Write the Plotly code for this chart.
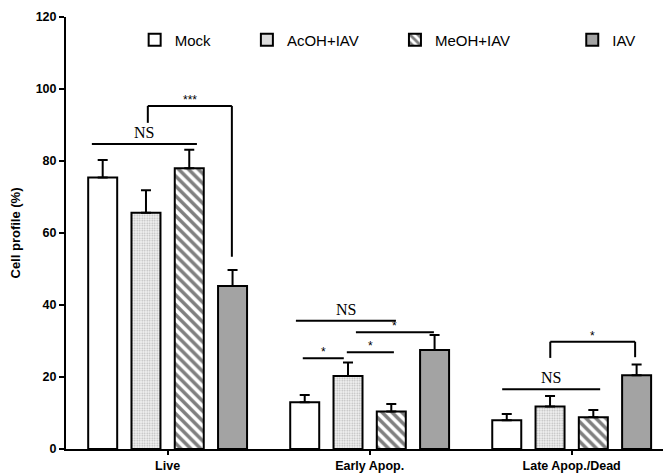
import plotly.graph_objects as go

categories = ["Live", "Early Apop.", "Late Apop./Dead"]
series_names = ["Mock", "AcOH+IAV", "MeOH+IAV", "IAV"]
mock = [75.4, 13.0, 8.0]
mock_err = [4.9, 2.0, 1.7]
acoh = [65.6, 20.3, 11.8]
acoh_err = [6.3, 3.7, 2.9]
meoh = [78.0, 10.4, 8.8]
meoh_err = [5.1, 2.1, 2.0]
iav = [45.3, 27.5, 20.5]
iav_err = [4.4, 4.2, 3.0]
y_ticks = [0, 20, 40, 60, 80, 100, 120]

# significance marks: (group, x_start offset, x_end offset, y, label, kind, left drop, right drop)
brackets = [
    (0, -0.375, 0.145, 84.7, "NS", "line", None, None),
    (0, -0.098, 0.318, 95.3, "***", "bracket", 90.6, 53.4),
    (1, -0.365, 0.130, 35.6, "NS", "line", None, None),
    (1, -0.068, 0.318, 32.4, "*", "line", None, None),
    (1, -0.331, -0.128, 25.2, "*", "line", None, None),
    (1, -0.113, 0.120, 26.9, "*", "line", None, None),
    (2, -0.344, 0.141, 16.6, "NS", "line", None, None),
    (2, -0.106, 0.314, 29.8, "*", "bracket", 25.3, 25.5),
]

FONT = "Liberation Sans, Arial, sans-serif"
SERIF = "Liberation Serif, Times New Roman, serif"

values = [mock, acoh, meoh, iav]
errors = [mock_err, acoh_err, meoh_err, iav_err]
fills = ["white", "white", "white", "#a3a3a3"]
patterns = [
    dict(shape=""),
    dict(shape=".", size=2.5, solidity=0.35, fgcolor="#7a7a7a", bgcolor="#f2f2f2", fillmode="overlay"),
    dict(shape="\\", size=7, solidity=0.5, fgcolor="black", bgcolor="white", fillmode="overlay"),
    dict(shape=""),
]
legend_ids = ["legend", "legend2", "legend3", "legend4"]
legend_x = [0.115, 0.303, 0.551, 0.848]

fig = go.Figure()
for i, name in enumerate(series_names):
    fig.add_trace(go.Bar(
        x=list(range(len(categories))), y=values[i], name=name,
        marker=dict(color=fills[i], line=dict(color="black", width=2), pattern=patterns[i]),
        error_y=dict(type="data", symmetric=False, array=errors[i],
                     arrayminus=[0] * len(categories), color="black", thickness=2, width=5),
        legend=legend_ids[i], offsetgroup=str(i), showlegend=True,
    ))

shapes = []
annotations = []
for g, xs, xe, y, label, kind, yl, yr in brackets:
    x0, x1 = g + xs, g + xe
    line = dict(color="black", width=2)
    shapes.append(dict(type="line", xref="x", yref="y", x0=x0, x1=x1, y0=y, y1=y, line=line))
    if kind == "bracket":
        shapes.append(dict(type="line", xref="x", yref="y", x0=x0, x1=x0, y0=yl, y1=y, line=line))
        shapes.append(dict(type="line", xref="x", yref="y", x0=x1, x1=x1, y0=yr, y1=y, line=line))
    is_star = "*" in label
    annotations.append(dict(
        x=(x0 + x1) / 2, y=y, xref="x", yref="y", text=label, showarrow=False,
        yanchor="bottom", yshift=(-3 if is_star else 1),
        font=dict(family=(FONT if is_star else SERIF), size=(12 if is_star else 16), color="#000000"),
    ))

layout_legends = {}
for i, lid in enumerate(legend_ids):
    layout_legends[lid] = dict(
        x=legend_x[i], y=0.947, xanchor="left", yanchor="middle", orientation="h",
        bgcolor="rgba(0,0,0,0)", font=dict(family=FONT, size=15, color="black"),
    )

fig.update_layout(
    width=663, height=475,
    margin=dict(l=66, r=0, t=17, b=26),
    paper_bgcolor="white", plot_bgcolor="white",
    barmode="group", bargap=0.143, bargroupgap=0.33,
    font=dict(family=FONT, color="black"),
    shapes=shapes, annotations=annotations, showlegend=True,
    **layout_legends,
)
fig.update_xaxes(
    range=[-0.503, 2.452], tickmode="array", tickvals=list(range(len(categories))),
    ticktext=categories, showline=True, linecolor="black", linewidth=2,
    ticks="outside", ticklen=4, tickwidth=1.5, tickcolor="black", showgrid=False,
    zeroline=False, tickfont=dict(family=FONT, size=12.5, color="black", weight="bold"),
)
fig.update_yaxes(
    range=[0, 120], tickmode="array", tickvals=y_ticks, showline=True,
    linecolor="black", linewidth=2, ticks="outside", ticklen=5, tickwidth=2,
    tickcolor="black", showgrid=False, zeroline=False,
    tickfont=dict(family=FONT, size=12.5, color="black", weight="bold"),
    title=dict(text="Cell profile (%)", font=dict(family=FONT, size=13, color="black", weight="bold"), standoff=12),
)

fig.write_html("out.html", config={"displayModeBar": False},
               post_script="document.body.style.margin='0';document.body.style.overflow='hidden';")
